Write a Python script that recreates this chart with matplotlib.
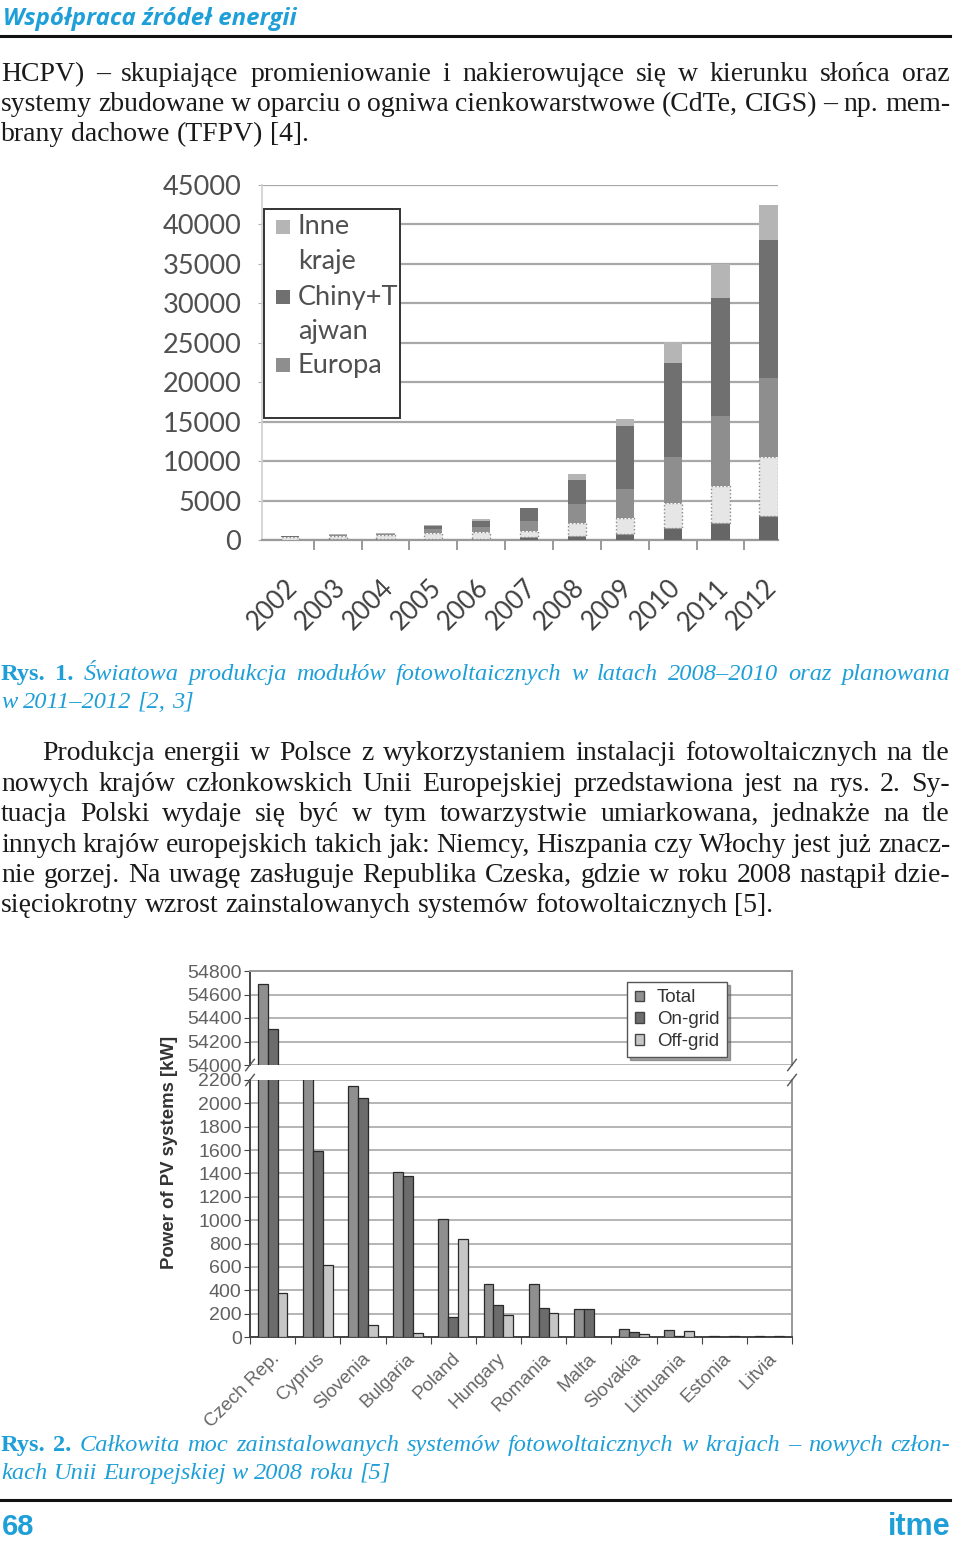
import matplotlib
matplotlib.use('Agg')
import matplotlib.pyplot as plt
from matplotlib.patches import Rectangle, Patch
from matplotlib.lines import Line2D
import matplotlib.transforms as mtransforms
import numpy as np

# ---------------- data ----------------
years = ['2002', '2003', '2004', '2005', '2006', '2007', '2008', '2009', '2010', '2011', '2012']
seg_bottom = [60, 80, 80, 170, 170, 380, 500, 700, 1550, 2100, 3100]
seg_light = [300, 400, 500, 670, 850, 760, 1600, 2100, 3150, 4800, 7450]
europa = [80, 150, 150, 500, 650, 1260, 2400, 3650, 5800, 8800, 10000]
chiny_tajwan = [20, 50, 80, 430, 750, 1600, 3150, 7950, 11900, 15000, 17500]
inne_kraje = [60, 80, 100, 90, 190, 90, 750, 900, 2750, 4300, 4430]
y1_ticks = [0, 5000, 10000, 15000, 20000, 25000, 30000, 35000, 40000, 45000]

countries = ['Czech Rep.', 'Cyprus', 'Slovenia', 'Bulgaria', 'Poland', 'Hungary',
             'Romania', 'Malta', 'Slovakia', 'Lithuania', 'Estonia', 'Litvia']
total = [54686, 2210, 2150, 1410, 1010, 455, 455, 240, 70, 60, 12, 8]
on_grid = [54306, 1590, 2050, 1380, 170, 270, 250, 240, 45, 5, 3, 2]
off_grid = [380, 620, 100, 30, 840, 185, 205, 2, 25, 55, 9, 6]
y2_low_ticks = list(range(0, 2201, 200))
y2_high_ticks = [54000, 54200, 54400, 54600, 54800]

header = 'Współpraca źródeł energii'
para1 = ['HCPV) – skupiające promieniowanie i nakierowujące się w kierunku słońca oraz',
         'systemy zbudowane w oparciu o ogniwa cienkowarstwowe (CdTe, CIGS) – np. mem-',
         'brany dachowe (TFPV) [4].']
cap1 = ['Światowa produkcja modułów fotowoltaicznych w latach 2008–2010 oraz planowana',
        'w 2011–2012 [2, 3]']
para2 = ['Produkcja energii w Polsce z wykorzystaniem instalacji fotowoltaicznych na tle',
         'nowych krajów członkowskich Unii Europejskiej przedstawiona jest na rys. 2. Sy-',
         'tuacja Polski wydaje się być w tym towarzystwie umiarkowana, jednakże na tle',
         'innych krajów europejskich takich jak: Niemcy, Hiszpania czy Włochy jest już znacz-',
         'nie gorzej. Na uwagę zasługuje Republika Czeska, gdzie w roku 2008 nastąpił dzie-',
         'sięciokrotny wzrost zainstalowanych systemów fotowoltaicznych [5].']
cap2 = ['Całkowita moc zainstalowanych systemów fotowoltaicznych w krajach – nowych człon-',
        'kach Unii Europejskiej w 2008 roku [5]']

# ---------------- figure ----------------
W, H = 960, 1548
fig = plt.figure(figsize=(W / 100, H / 100), dpi=100)
fig.patch.set_facecolor('white')
renderer = fig.canvas.get_renderer()
CYAN = '#1e9fd8'
TXT = '#1a1a1a'


def fx(x):
    return x / W


def fy(y):
    return 1 - y / H


def measure(s, **kw):
    t = fig.text(0, 0, s, **kw)
    w = t.get_window_extent(renderer).width
    t.remove()
    return w


def fit_size(s, target, **kw):
    return 20 * target / measure(s, fontsize=20, **kw)


def put_line(y, segs, x0, x1, size, justify=True):
    words = []
    for txt, kw in segs:
        for w in txt.split(' '):
            if w:
                words.append((w, kw))
    widths = [measure(w, fontsize=size, **kw) for w, kw in words]
    if justify and len(words) > 1:
        gap = (x1 - x0 - sum(widths)) / (len(words) - 1)
    else:
        kw0 = words[0][1]
        gap = measure('a a', fontsize=size, **kw0) - measure('aa', fontsize=size, **kw0)
    x = x0
    for (w, kw), wd in zip(words, widths):
        fig.text(fx(x), fy(y), w, fontsize=size, ha='left', va='baseline', **kw)
        x += wd + gap


body = dict(family='Liberation Serif', color=TXT)
ital = dict(family='Liberation Serif', style='italic', color=CYAN)
boldc = dict(family='Liberation Serif', weight='bold', color=CYAN)

body_size = 0.5 * (fit_size(para1[2], 305, **body) + fit_size(para2[5], 777, **body))
cap_size = 0.5 * (fit_size(cap1[1], 192, **ital) + fit_size(cap2[1], 390, **ital))

# header
hdr = dict(family='Open Sans', weight='bold', style='italic', color=CYAN)
hsize = fit_size(header, 294, **hdr)
fig.text(fx(3), fy(25), header, fontsize=hsize, ha='left', va='baseline', **hdr)
fig.add_artist(Line2D([0, fx(950)], [fy(36), fy(36)], color='#111111', lw=2.2))

# paragraph 1
put_line(81, [(para1[0], body)], 1, 950, body_size)
put_line(111, [(para1[1], body)], 1, 950, body_size)
put_line(141, [(para1[2], body)], 1, 950, body_size, justify=False)

# caption 1
put_line(680, [('Rys. 1.', boldc), (cap1[0], ital)], 1, 950, cap_size)
put_line(708, [(cap1[1], ital)], 1, 950, cap_size, justify=False)

# paragraph 2
put_line(760, [(para2[0], body)], 42, 950, body_size)
for i, yy in enumerate([791, 821, 852, 882]):
    put_line(yy, [(para2[i + 1], body)], 1, 950, body_size)
put_line(912, [(para2[5], body)], 1, 950, body_size, justify=False)

# caption 2
put_line(1451, [('Rys. 2.', boldc), (cap2[0], ital)], 1, 950, cap_size)
put_line(1479, [(cap2[1], ital)], 1, 950, cap_size, justify=False)

# footer
fig.add_artist(Line2D([0, fx(950)], [fy(1500), fy(1500)], color='#111111', lw=2.2))
fig.text(fx(2), fy(1535), '68', fontsize=21, color=CYAN, weight='bold',
         family='Liberation Sans', ha='left', va='baseline')
fig.text(fx(950), fy(1535), 'itme', fontsize=22, color=CYAN, weight='bold',
         family='Liberation Sans', ha='right', va='baseline')

# ---------------- chart 1 ----------------
ax1 = fig.add_axes([fx(262), fy(540), (778 - 262) / W, (540 - 185) / H])
x1 = np.arange(len(years))
bw = 0.38
c_bottom, c_light, c_eur, c_chn, c_inne = '#666666', '#e6e6e6', '#8e8e8e', '#707070', '#b5b5b5'
b = np.zeros(len(years))
ax1.bar(x1, seg_bottom, bw, bottom=b, color=c_bottom, zorder=3)
b += seg_bottom
ax1.bar(x1, seg_light, bw, bottom=b, color=c_light, edgecolor='#8a8a8a',
        linestyle=':', linewidth=1.0, zorder=3)
b += seg_light
ax1.bar(x1, europa, bw, bottom=b, color=c_eur, zorder=3, label='Europa')
b += europa
ax1.bar(x1, chiny_tajwan, bw, bottom=b, color=c_chn, zorder=3, label='Chiny+Tajwan')
b += chiny_tajwan
ax1.bar(x1, inne_kraje, bw, bottom=b, color=c_inne, zorder=3, label='Inne kraje')

ax1.set_xlim(-0.58, 10.2)
ax1.set_ylim(0, 45000)
ax1.set_yticks(y1_ticks)
ax1.set_yticklabels([str(v) for v in y1_ticks], family='Lato', fontsize=19.5, color='#505050')
ax1.yaxis.grid(True, color='#a8a8a8', lw=1.6, zorder=0)
ax1.set_axisbelow(True)
for s in ['top', 'right']:
    ax1.spines[s].set_visible(False)
ax1.spines['left'].set_color('#d0d0d0')
ax1.spines['left'].set_linewidth(1.2)
ax1.spines['bottom'].set_color('#9a9a9a')
ax1.spines['bottom'].set_linewidth(1.6)
ax1.tick_params(axis='y', length=3, color='#b0b0b0', pad=12)
ax1.set_xticks(x1[:-1] + 0.5)
ax1.set_xticklabels([])
ax1.tick_params(axis='x', length=7, width=1.4, color='#9a9a9a')
lab_tr = ax1.get_xaxis_transform() + mtransforms.ScaledTranslation(0, -44 / 100, fig.dpi_scale_trans)
for i, yr in enumerate(years):
    ax1.text(i + 0.08, 0, yr, transform=lab_tr, rotation=45, rotation_mode='anchor',
             ha='right', va='center', family='Lato', fontsize=18.5, color='#404040')

# legend of chart 1 (drawn in figure pixel coordinates)
fig.add_artist(Rectangle((fx(264), fy(418)), 136 / W, 209 / H, transform=fig.transFigure,
                         facecolor='white', edgecolor='#333333', lw=1.4, zorder=5))
leg_items = [(c_inne, ['Inne', 'kraje'], 227), (c_chn, ['Chiny+T', 'ajwan'], 297),
             (c_eur, ['Europa'], 365)]
for col, lines, yc in leg_items:
    fig.add_artist(Rectangle((fx(276), fy(yc + 7)), 14 / W, 14 / H, transform=fig.transFigure,
                             facecolor=col, edgecolor='none', zorder=6))
    for k, ln in enumerate(lines):
        fig.text(fx(298), fy(yc + 35 * k), ln, family='Lato', fontsize=19.5, color='#505050',
                 ha='left', va='center', zorder=6)

# ---------------- chart 2 ----------------
axb = fig.add_axes([fx(250), fy(1337), 542 / W, 257 / H])
axt = fig.add_axes([fx(250), fy(1065), 542 / W, 94 / H])
x2 = np.arange(len(countries))
w2 = 0.22
c_tot, c_on, c_off = '#8f8f8f', '#6c6c6c', '#c6c6c6'
for ax in (axb, axt):
    ax.bar(x2 - w2, total, w2, color=c_tot, edgecolor='#2a2a2a', lw=0.9, zorder=3, label='Total')
    ax.bar(x2, on_grid, w2, color=c_on, edgecolor='#2a2a2a', lw=0.9, zorder=3, label='On-grid')
    ax.bar(x2 + w2, off_grid, w2, color=c_off, edgecolor='#2a2a2a', lw=0.9, zorder=3, label='Off-grid')
    ax.set_xlim(-0.5, 11.5)
    ax.yaxis.grid(True, color='#b4b4b4', lw=1.4, zorder=0)
    ax.set_axisbelow(True)
    ax.spines['left'].set_color('#444444')
    ax.spines['left'].set_linewidth(1.4)
    ax.spines['right'].set_color('#999999')
    ax.spines['right'].set_linewidth(1.4)
    ax.tick_params(axis='y', length=4, color='#444444', pad=2,
                   labelsize=14, labelcolor='#606060')

axb.set_ylim(0, 2200)
axb.set_yticks(y2_low_ticks)
axb.set_yticklabels([str(v) for v in y2_low_ticks], family='Liberation Sans')
axb.spines['top'].set_visible(False)
axb.spines['bottom'].set_color('#444444')
axb.spines['bottom'].set_linewidth(1.4)
axb.set_xticks(np.arange(-0.5, 12, 1.0))
axb.set_xticklabels([])
axb.tick_params(axis='x', length=5, color='#444444')

axt.set_ylim(54000, 54800)
axt.set_yticks(y2_high_ticks)
axt.set_yticklabels([str(v) for v in y2_high_ticks], family='Liberation Sans')
axt.spines['bottom'].set_visible(False)
axt.spines['top'].set_color('#999999')
axt.spines['top'].set_linewidth(1.4)
axt.set_xticks([])

lab_tr2 = axb.get_xaxis_transform() + mtransforms.ScaledTranslation(0, -19 / 100, fig.dpi_scale_trans)
for i, c in enumerate(countries):
    axb.text(i + 0.1, 0, c, transform=lab_tr2, rotation=45, rotation_mode='anchor',
             ha='right', va='center', family='Liberation Sans', fontsize=13.5, color='#666666')

# axis break marks
for ax, yb in ((axt, 0.0), (axb, 1.0)):
    dy = 0.06 if ax is axt else 0.022
    for xb in (0.0, 1.0):
        ax.plot([xb - 0.008, xb + 0.008], [yb - dy, yb + dy], transform=ax.transAxes,
                color='#555555', lw=1.0, clip_on=False, zorder=6)

ylab_kw = dict(family='Liberation Sans', weight='bold')
ysize = fit_size('Power of PV systems [kW]', 235, **ylab_kw)
fig.text(fx(170), fy(1152), 'Power of PV systems [kW]', rotation=90, fontsize=ysize,
         color='#333333', ha='center', va='center', **ylab_kw)

handles = [Patch(facecolor=c_tot, edgecolor='#444444'), Patch(facecolor=c_on, edgecolor='#444444'),
           Patch(facecolor=c_off, edgecolor='#444444')]
leg = axt.legend(handles, ['Total', 'On-grid', 'Off-grid'], loc='upper left',
                 bbox_to_anchor=(fx(627), fy(982)), bbox_transform=fig.transFigure,
                 prop=dict(family='Liberation Sans', size=13.5), frameon=True, fancybox=False,
                 shadow=True, edgecolor='#555555', handlelength=0.5, handleheight=0.5,
                 handletextpad=0.7, borderpad=0.4, labelspacing=0.25, borderaxespad=0)
leg.get_frame().set_linewidth(1.0)
for t in leg.get_texts():
    t.set_color('#333333')

fig.savefig('out.png', dpi=100, facecolor='white')
